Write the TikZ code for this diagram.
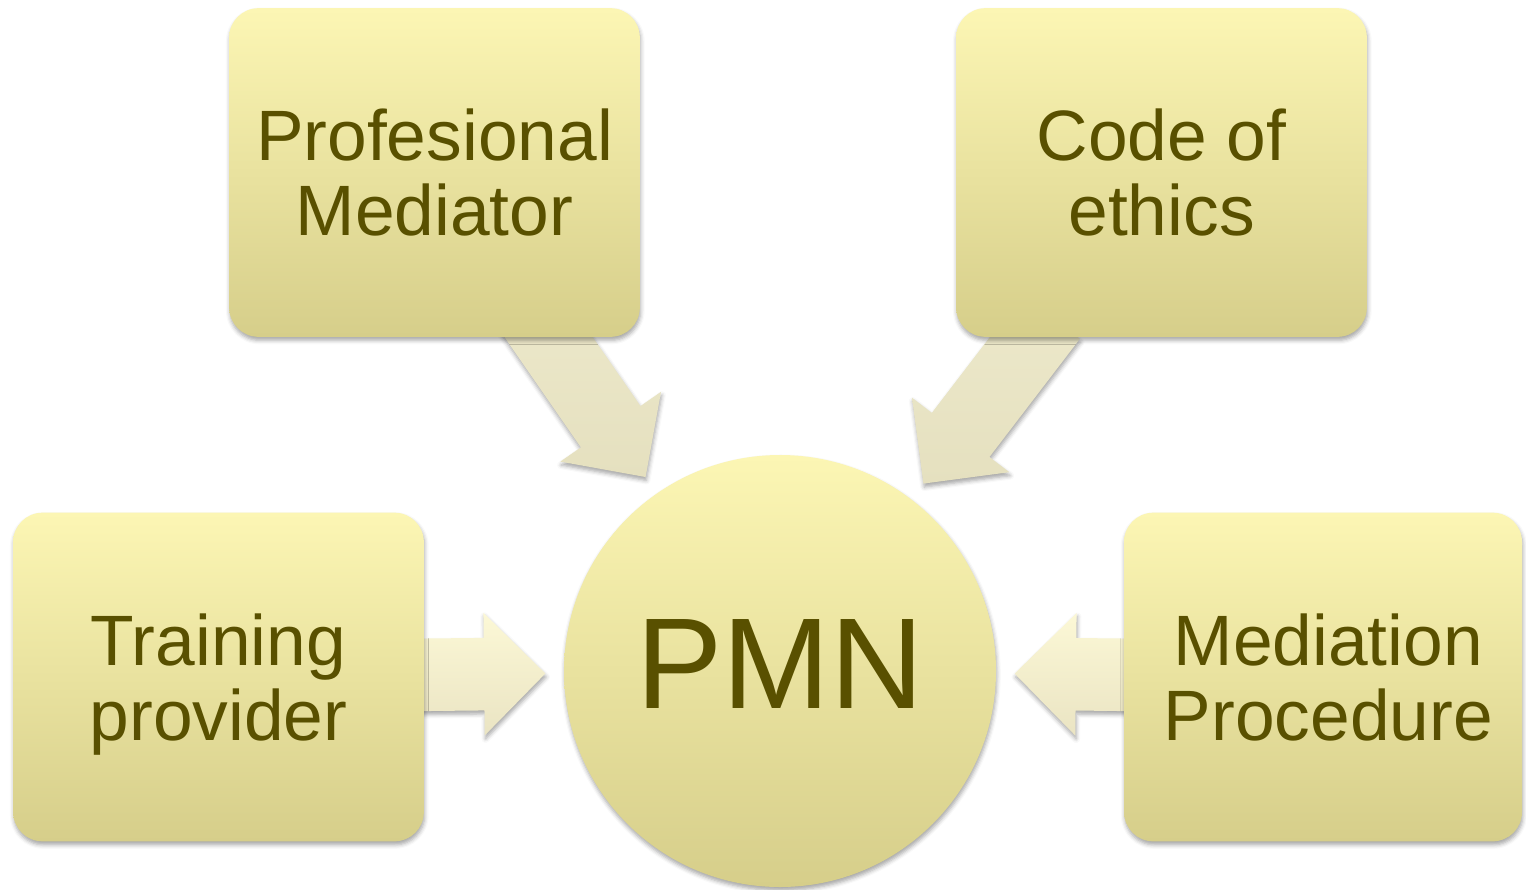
\documentclass[tikz,border=0pt]{standalone}
\usepackage{fontspec}
\setmainfont{Liberation Sans}
\usetikzlibrary{shapes.arrows, shadows.blur, calc, backgrounds}

\definecolor{boxtop}{RGB}{252,246,180}
\definecolor{boxbottom}{RGB}{214,206,138}
\definecolor{labeltext}{RGB}{89,80,0}
\definecolor{arrowtop}{RGB}{252,248,214}
\definecolor{arrowbottom}{RGB}{234,228,195}
\definecolor{slanttop}{RGB}{237,233,203}
\definecolor{slantbottom}{RGB}{229,224,191}

\begin{document}
\begin{tikzpicture}[x=0.75pt, y=-0.75pt]
	\tikzset{
		softshadow/.style={blur shadow={shadow xshift=0.6pt, shadow yshift=-2.6pt, shadow blur radius=3pt, shadow opacity=35}},
		topic/.style={rectangle, rounded corners=22pt, minimum width=308pt, minimum height=246.5pt, inner sep=0, top color=boxtop, bottom color=boxbottom, text=labeltext, align=center, font=\fontsize{53.5}{56.25}\selectfont, softshadow},
		hub/.style={circle, minimum size=324pt, inner sep=0, top color=boxtop, bottom color=boxbottom, text=labeltext, font=\fontsize{97}{97}\selectfont, text depth=10pt, softshadow},
		flow/.style={single arrow, single arrow head extend=18.75pt, minimum width=91.5pt, text height=54pt, text depth=0pt, inner sep=0, outer sep=0, anchor=tip, top color=arrowtop, bottom color=arrowbottom, softshadow},
		slant/.style={flow, top color=slanttop, bottom color=slantbottom}
	}
	\useasboundingbox (0,0) rectangle (1526,889);

	% centre and the four topics
	\node[hub] (pmn) at (780,671) {PMN};
	\node[topic] (prof) at (434.5,172.5) {Profesional\\Mediator};
	\node[topic] (code) at (1161.5,172.5) {Code of\\ethics};
	\node[topic, text depth=0pt] (train) at (218.5,677) {Training\\provider};
	\node[topic, minimum width=298.5pt] (proc) at (1323,677) {\hspace*{8pt}Mediation\\\hspace*{8pt}Procedure};

	% block arrows pointing at the centre
	\begin{scope}[on background layer]
		\path let \p1=($(pmn)-(prof)$), \n1={atan2(\y1,\x1)} in
			($(pmn)!177pt!(prof)$) node[slant, rotate=\n1, minimum height=157.5pt] (toprof) {};
		\path let \p1=($(pmn)-(code)$), \n1={atan2(\y1,\x1)} in
			($(pmn)!177pt!(code)$) node[slant, rotate=\n1, minimum height=157.5pt] (tocode) {};
		\path let \p1=($(pmn)-(train)$), \n1={atan2(\y1,\x1)} in
			($(pmn)!176pt!(train)$) node[flow, rotate=\n1, minimum height=105pt] (totrain) {};
		\path let \p1=($(pmn)-(proc)$), \n1={atan2(\y1,\x1)} in
			($(pmn)!176pt!(proc)$) node[flow, rotate=\n1, minimum height=105pt] (toproc) {};
	\end{scope}
\end{tikzpicture}
\end{document}
